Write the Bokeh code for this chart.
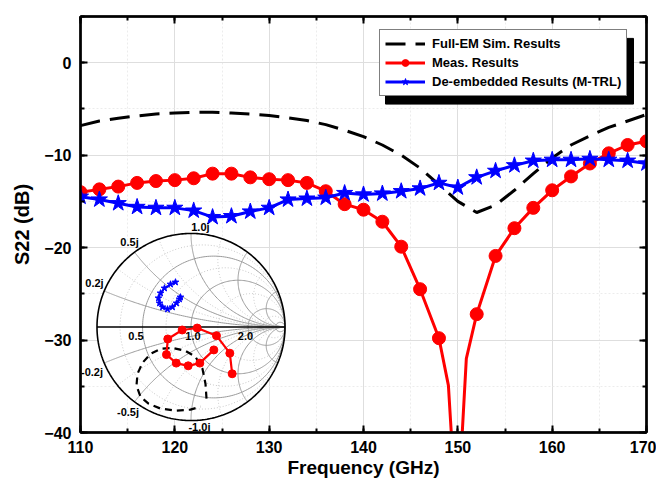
import numpy as np
from bokeh.plotting import figure
from bokeh.models import (Range1d, LinearAxis, SingleIntervalTicker, Legend,
                          LegendItem, CustomJSTickFormatter)
from bokeh.core.properties import value
from bokeh.embed import file_html
from bokeh.resources import INLINE

FONT = "Liberation Sans"

# ---------------- data ----------------
freq = list(range(110, 171, 2))

sim_db = [-6.8, -6.3, -6.0, -5.75, -5.55, -5.45, -5.35, -5.35, -5.45, -5.55,
          -5.7, -5.95, -6.25, -6.7, -7.3, -8.0, -8.9, -10.0, -11.4, -13.2,
          -15.0, -16.2, -15.4, -13.8, -12.0, -10.3, -8.9, -7.9, -7.0, -6.3, -5.6]

meas_freq = [110, 112, 114, 116, 118, 120, 122, 124, 126, 128, 130, 132, 134,
             136, 138, 140, 142, 144, 146, 148, 152, 154, 156, 158, 160, 162,
             164, 166, 168, 170]
meas_db = [-14.0, -13.7, -13.4, -13.0, -12.8, -12.7, -12.5, -12.0, -12.0, -12.4,
           -12.6, -12.7, -13.0, -13.9, -15.3, -15.9, -17.2, -19.9, -24.5, -29.8,
           -27.2, -20.9, -17.9, -15.7, -13.8, -12.3, -10.9, -9.8, -8.9, -8.5]

# measured trace between markers around the resonance notch
notch_freq = [149.0, 149.6, 150.2, 150.9]
notch_db = [-34.9, -45.0, -45.0, -32.0]

deemb_db = [-14.5, -14.8, -15.2, -15.6, -15.7, -15.7, -16.0, -16.7, -16.6, -16.1,
            -15.7, -14.8, -14.7, -14.6, -14.1, -14.25, -14.15, -13.9, -13.6, -13.0,
            -13.5, -12.4, -11.7, -11.1, -10.6, -10.5, -10.5, -10.4, -10.5, -10.6, -10.9]

# Smith-chart inset (reflection coefficient, real / imaginary)
smith_sim_re = [0.165, 0.154, 0.122, 0.048, -0.059, -0.197, -0.324, -0.431, -0.516,
                -0.569, -0.580, -0.537, -0.452, -0.324, -0.165, -0.005, 0.101]
smith_sim_im = [-0.766, -0.606, -0.447, -0.319, -0.255, -0.223, -0.234, -0.287, -0.383,
                -0.500, -0.628, -0.745, -0.819, -0.872, -0.894, -0.883, -0.851]
smith_meas_re = [0.243, 0.094, -0.030, -0.157, -0.261, -0.247, -0.094, 0.066, 0.271, 0.413, 0.438]
smith_meas_im = [-0.245, -0.386, -0.415, -0.386, -0.295, -0.128, -0.032, -0.011, -0.093, -0.280, -0.500]
smith_de_re = [-0.165, -0.218, -0.282, -0.324, -0.346, -0.335, -0.303, -0.250, -0.197,
               -0.154, -0.122, -0.112]
smith_de_im = [0.479, 0.457, 0.415, 0.362, 0.309, 0.255, 0.213, 0.191, 0.213,
               0.255, 0.298, 0.319]

smith_labels = ["1.0j", "0.5j", "0.2j", "-0.2j", "-0.5j", "-1.0j", "0.5", "1.0", "2.0"]
smith_label_re = [0.10, -0.654, -1.027, -1.053, -0.670, 0.09, -0.585, 0.021, 0.58]
smith_label_im = [1.064, 0.904, 0.468, -0.479, -0.904, -1.074, -0.093, -0.093, -0.093]

# grid values of the inset chart
grid_r_solid = [0.32, 1.0, 4.1, 19.0]
grid_r_dot = [0.14, 0.58, 1.8, 7.7]
grid_x_solid = [0.2, 0.5, 1.0, 2.0, 5.0, -0.2, -0.5, -1.0, -2.0, -5.0]
grid_x_dot = [0.35, 0.7, 1.4, 3.0, -0.35, -0.7, -1.4, -3.0]

# ---------------- figure ----------------
p = figure(width=656, height=480, x_range=Range1d(110, 170), y_range=Range1d(-40, 5),
           output_backend="svg", toolbar_location=None,
           min_border_left=80, min_border_right=10, min_border_top=16, min_border_bottom=46,
           x_axis_label="Frequency (GHz)", y_axis_label="S22 (dB)")
p.background_fill_color = "white"
p.outline_line_color = "black"
p.outline_line_width = 2

xt = SingleIntervalTicker(interval=10, num_minor_ticks=2)
yt = SingleIntervalTicker(interval=10, num_minor_ticks=2)
p.xaxis.ticker = xt
p.yaxis.ticker = yt
p.xgrid.ticker = xt
p.ygrid.ticker = yt
for g in (p.xgrid, p.ygrid):
    g.grid_line_color = "#dedede"
    g.grid_line_width = 1
    g.minor_grid_line_color = "#ececec"
    g.minor_grid_line_dash = "2 2"


def style_axis(ax, labels=True):
    ax.axis_line_width = 2.5
    ax.axis_line_color = "black"
    ax.major_tick_in = 7
    ax.major_tick_out = 0
    ax.minor_tick_in = 4
    ax.minor_tick_out = 0
    ax.major_tick_line_width = 2
    ax.minor_tick_line_width = 2
    ax.major_tick_line_color = "black"
    ax.minor_tick_line_color = "black"
    ax.major_label_text_font = FONT
    ax.major_label_text_font_style = "bold"
    ax.major_label_text_color = "black"
    ax.major_label_text_font_size = "16px"
    if not labels:
        ax.formatter = CustomJSTickFormatter(code="return ''")
        ax.major_label_standoff = 0


style_axis(p.xaxis[0])
style_axis(p.yaxis[0])
p.xaxis.major_label_standoff = 8
p.yaxis.major_label_standoff = 9
p.xaxis.axis_label_standoff = 1
p.yaxis.axis_label_standoff = 8
for ax in (p.xaxis[0], p.yaxis[0]):
    ax.axis_label_text_font = FONT
    ax.axis_label_text_font_style = "bold"
    ax.axis_label_text_color = "black"
p.xaxis.axis_label_text_font_size = "19px"
p.yaxis.axis_label_text_font_size = "20px"

top_ax = LinearAxis(ticker=xt)
right_ax = LinearAxis(ticker=yt)
style_axis(top_ax, labels=False)
style_axis(right_ax, labels=False)
p.add_layout(top_ax, "above")
p.add_layout(right_ax, "right")

# ---------------- main curves ----------------
r_sim = p.line(freq, sim_db, line_color="black", line_width=3, line_dash="20 10")

meas_line_f = meas_freq[:20] + notch_freq + meas_freq[20:]
meas_line_db = meas_db[:20] + notch_db + meas_db[20:]
r_meas_l = p.line(meas_line_f, meas_line_db, line_color="#ff0000", line_width=3)
r_meas_p = p.scatter(meas_freq, meas_db, marker="circle", size=13,
                     fill_color="#ff0000", line_color="#ff0000")

r_de_l = p.line(freq, deemb_db, line_color="#0000ff", line_width=3)
r_de_p = p.scatter(freq, deemb_db, marker="star", size=17,
                   fill_color="#0000ff", line_color="#0000ff")

# ---------------- Smith chart inset ----------------
# inset circle: centre at pixel (190.5, 328), radius 94 px within frame 80..646 x 16..434
p.extra_x_ranges = {"sx": Range1d(-1.1755, 4.8457)}
p.extra_y_ranges = {"sy": Range1d(-1.1277, 3.3191)}
S = dict(x_range_name="sx", y_range_name="sy")

p.circle(x=[0], y=[0], radius=1, fill_color="white", line_color=None, **S)


def r_circle(r):
    th = np.linspace(0, 2 * np.pi, 240)
    c = r / (1 + r)
    rad = 1 / (1 + r)
    return list(c + rad * np.cos(th)), list(rad * np.sin(th))


def x_arc(x):
    t = np.concatenate([[0.0], np.geomspace(1e-3, 1e3, 300)])
    z = t + 1j * x
    g = (z - 1) / (z + 1)
    return list(g.real), list(g.imag)


def build(rs, xs):
    X, Y = [], []
    for r in rs:
        a, b = r_circle(r)
        X.append(a); Y.append(b)
    for x in xs:
        a, b = x_arc(x)
        X.append(a); Y.append(b)
    return X, Y


dx, dy = build(grid_r_dot, grid_x_dot)
p.multi_line(dx, dy, line_color="#c8c8c8", line_width=1, line_dash="1 2", **S)
sx_, sy_ = build(grid_r_solid, grid_x_solid)
p.multi_line(sx_, sy_, line_color="#9a9a9a", line_width=1, **S)

th = np.linspace(0, 2 * np.pi, 360)
p.line(list(np.cos(th)), list(np.sin(th)), line_color="black", line_width=1.6, **S)
p.line([-1, 1], [0, 0], line_color="black", line_width=1.4, **S)

p.line(smith_sim_re, smith_sim_im, line_color="black", line_width=2.2, line_dash="7 5", **S)
p.line(smith_meas_re, smith_meas_im, line_color="#ff0000", line_width=2.2, **S)
p.scatter(smith_meas_re, smith_meas_im, marker="circle", size=8,
          fill_color="#ff0000", line_color="#ff0000", **S)
p.line(smith_de_re, smith_de_im, line_color="#0000ff", line_width=1.8, **S)
p.scatter(smith_de_re, smith_de_im, marker="star", size=7,
          fill_color="#0000ff", line_color="#0000ff", **S)

p.text(smith_label_re, smith_label_im, text=smith_labels, text_font=value(FONT),
       text_font_style="bold", text_font_size="11px", text_align="center",
       text_baseline="middle", text_color="black", **S)

# ---------------- legend with shadow ----------------
def px2x(px):
    return 110 + (px - 80) * 60.0 / 566.0


def py2y(py):
    return 5 - (py - 16) * 45.0 / 418.0


p.quad(left=[px2x(385)], right=[px2x(633)], top=[py2y(38)], bottom=[py2y(104)],
       fill_color="black", line_color="black")

legend = Legend(items=[
    LegendItem(label="Full-EM Sim. Results", renderers=[r_sim]),
    LegendItem(label="Meas. Results", renderers=[r_meas_l, r_meas_p]),
    LegendItem(label="De-embedded Results (M-TRL)", renderers=[r_de_l, r_de_p]),
], location=(299, 336))
legend.label_text_font = FONT
legend.label_text_font_style = "bold"
legend.label_text_font_size = "13px"
legend.label_text_color = "black"
legend.glyph_width = 40
legend.glyph_height = 17
legend.label_height = 17
legend.spacing = 2
legend.padding = 5
legend.margin = 0
legend.label_standoff = 7
legend.border_line_color = "black"
legend.border_line_width = 1
legend.background_fill_color = "white"
legend.background_fill_alpha = 1
p.add_layout(legend)

open("out.html", "w").write(file_html(p, INLINE))
